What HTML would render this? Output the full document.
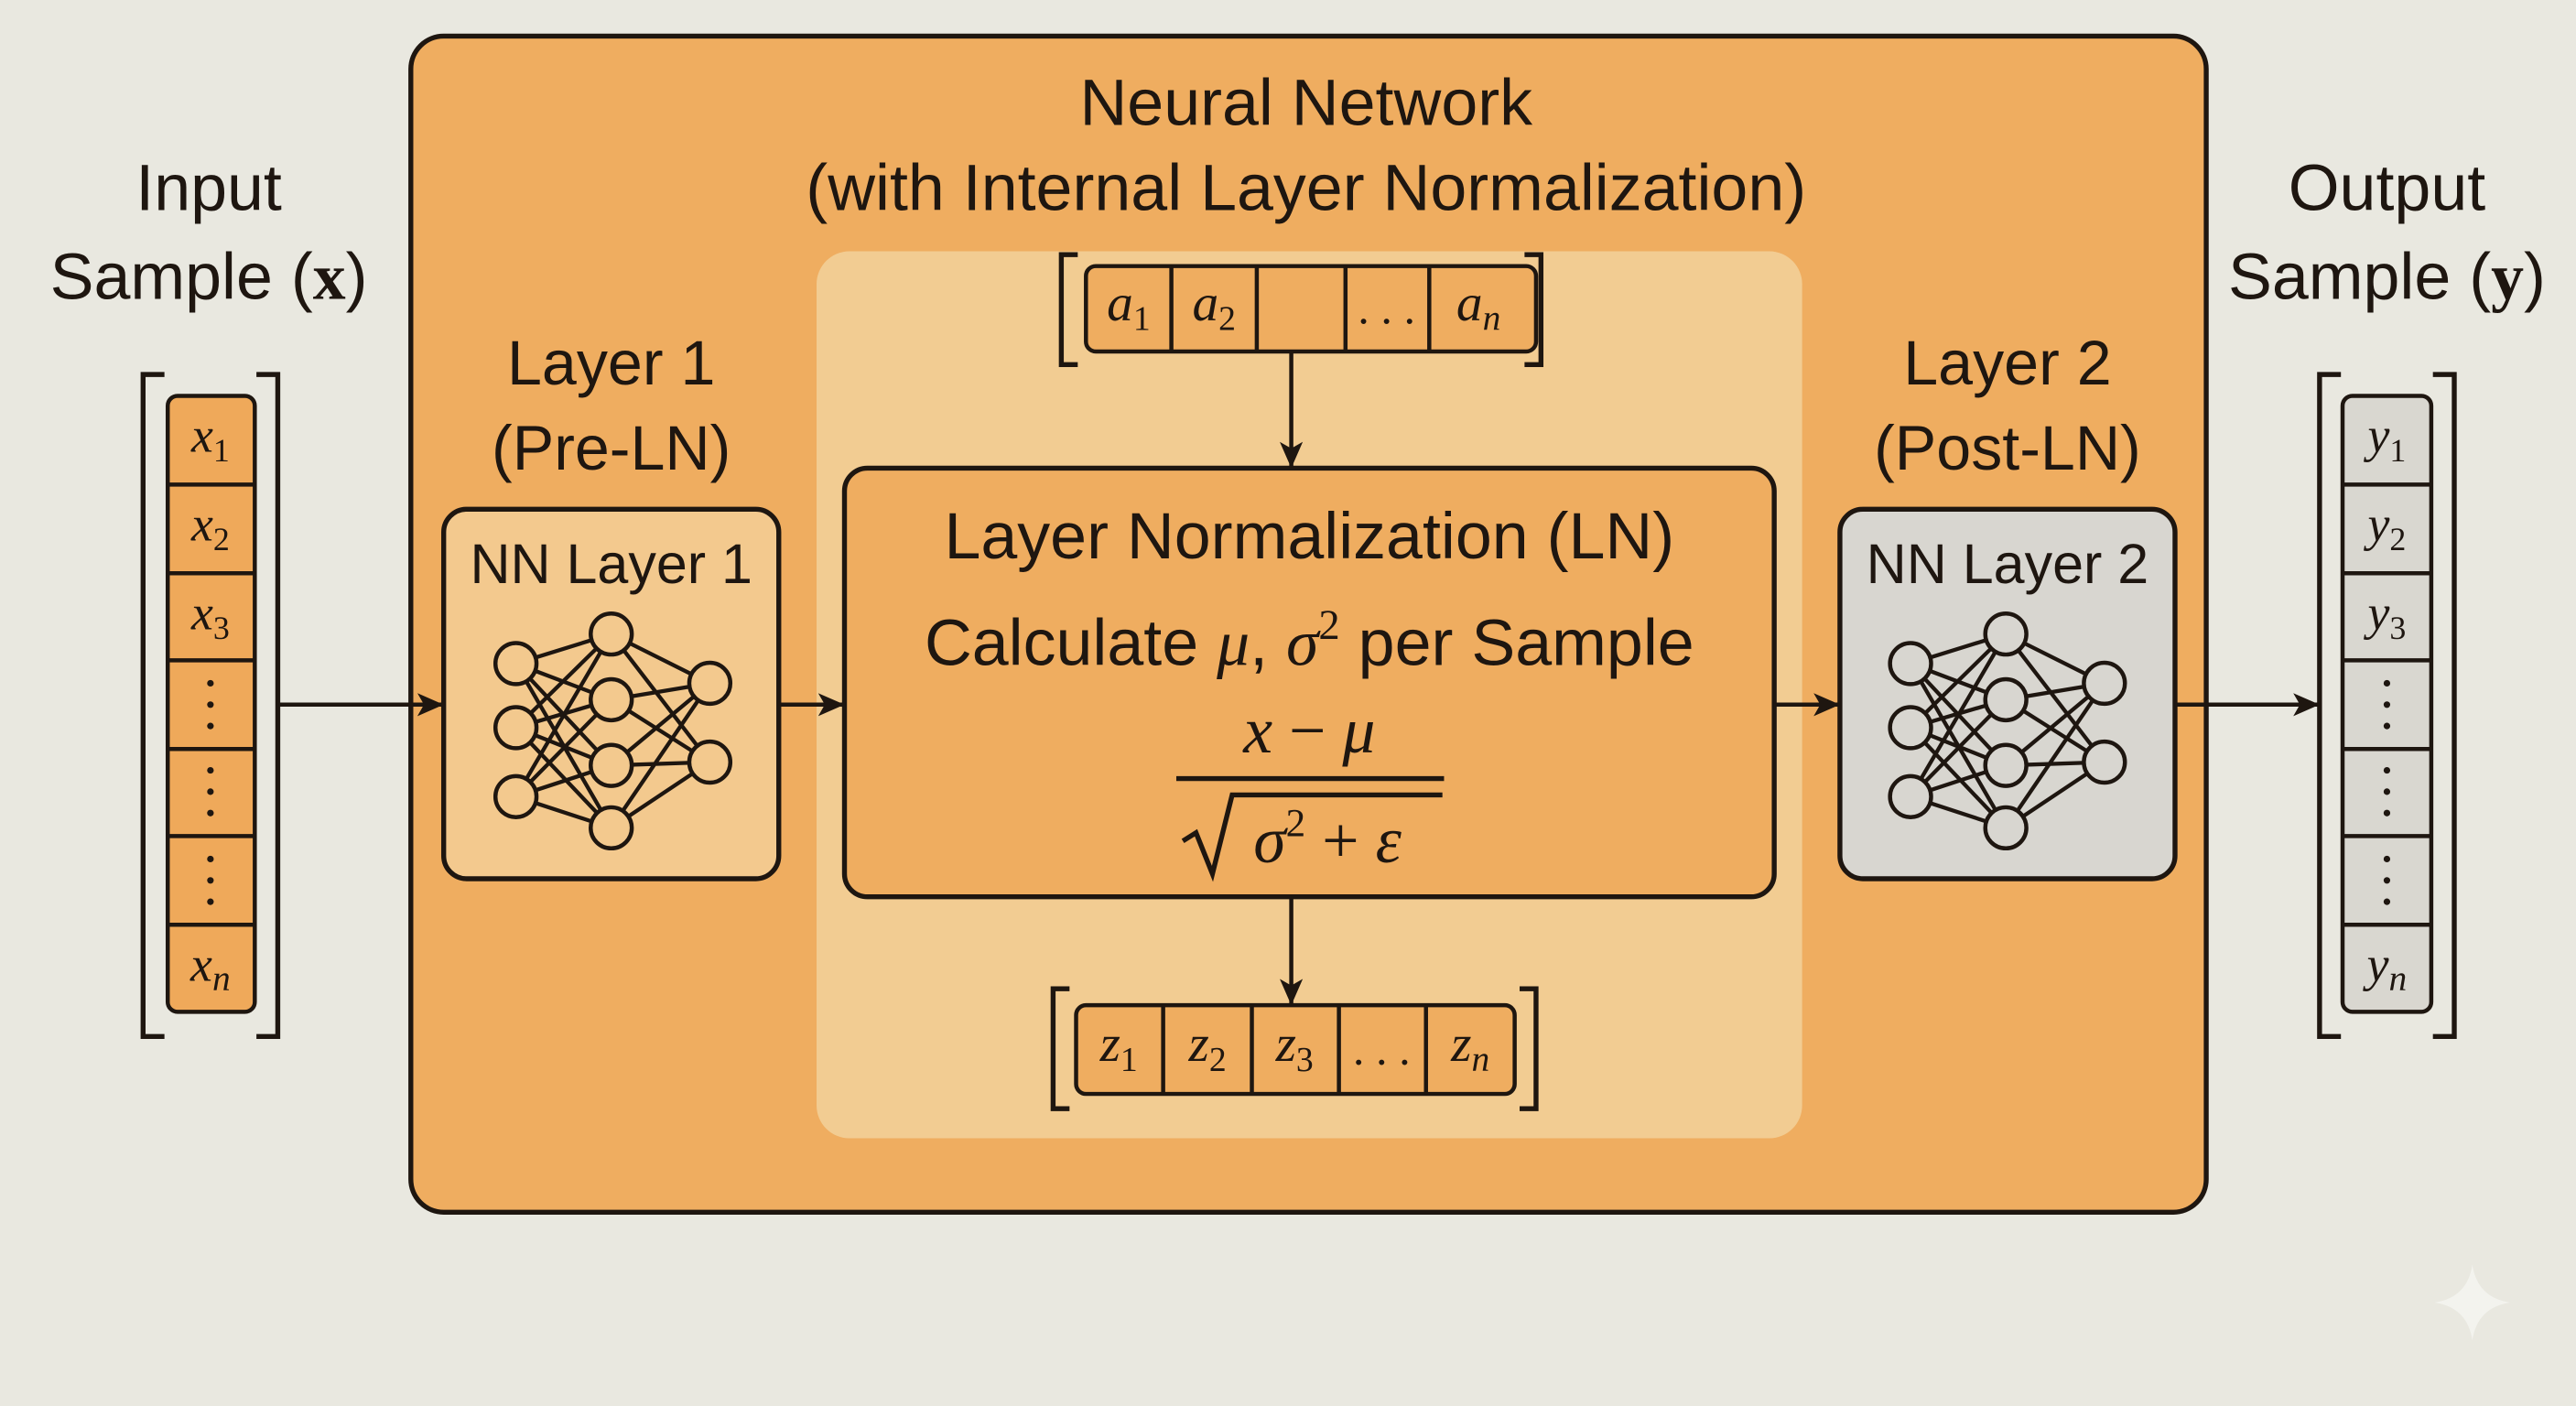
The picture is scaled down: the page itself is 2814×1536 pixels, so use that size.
<!DOCTYPE html>
<html><head><meta charset="utf-8"><style>
html,body{margin:0;padding:0;background:#e9e8e0;}
svg{display:block}
.t{font-family:"Liberation Sans",sans-serif;fill:#1e1610;text-anchor:middle}
.m{font-family:"Liberation Serif",serif;font-style:italic;fill:#1e1610;text-anchor:middle}
</style></head><body>
<svg width="2814" height="1536" viewBox="0 0 1568 856" xmlns="http://www.w3.org/2000/svg">
<defs>
<marker id="ah" markerWidth="16" markerHeight="14" refX="15" refY="7" orient="auto" markerUnits="userSpaceOnUse">
<path d="M0,0 L16,7 L0,14 L4,7 Z" fill="#1e1610"/></marker>
<g id="net" stroke="#1e1610" stroke-width="2.4" fill="none">
<path d="M314,404L372,386M314,404L372,426M314,404L372,466M314,404L372,504M314,443L372,386M314,443L372,426M314,443L372,466M314,443L372,504M314,485L372,386M314,485L372,426M314,485L372,466M314,485L372,504M372,386L432,416M372,386L432,464M372,426L432,416M372,426L432,464M372,466L432,416M372,466L432,464M372,504L432,416M372,504L432,464"/>
</g>
</defs>
<rect width="1568" height="856" fill="#e9e8e0"/>
<rect x="250" y="22" width="1093" height="716" rx="20" fill="#efad60" stroke="#1e1610" stroke-width="3"/>
<rect x="497" y="153" width="600" height="540" rx="20" fill="#f2cc92"/>
<text class="t" x="795" y="76" font-size="40">Neural Network</text>
<text class="t" x="795" y="128" font-size="40">(with Internal Layer Normalization)</text>
<text class="t" x="127" y="128" font-size="40">Input</text>
<text class="t" x="127" y="182" font-size="40">Sample (<tspan font-family="Liberation Serif" font-weight="bold">x</tspan>)</text>
<path d="M100,228 H87 V631 H100 M156,228 H169 V631 H156" fill="none" stroke="#1e1610" stroke-width="3"/>
<rect x="102" y="241" width="53" height="375" rx="6" fill="#efa95a" stroke="#1e1610" stroke-width="2.5"/>
<path d="M102,295H155M102,349H155M102,402H155M102,456H155M102,509H155M102,563H155" stroke="#1e1610" stroke-width="2.5"/>
<g font-size="30" class="m">
<text x="128" y="275">x<tspan font-size="20" font-style="normal" dy="6">1</tspan></text>
<text x="128" y="329">x<tspan font-size="20" font-style="normal" dy="6">2</tspan></text>
<text x="128" y="383">x<tspan font-size="20" font-style="normal" dy="6">3</tspan></text>
<text x="128" y="597">x<tspan font-size="22" dy="6">n</tspan></text>
</g>
<g fill="#1e1610"><circle cx="128" cy="416" r="2"/><circle cx="128" cy="429" r="2"/><circle cx="128" cy="442" r="2"/>
<circle cx="128" cy="469" r="2"/><circle cx="128" cy="482" r="2"/><circle cx="128" cy="495" r="2"/>
<circle cx="128" cy="523" r="2"/><circle cx="128" cy="536" r="2"/><circle cx="128" cy="549" r="2"/></g>
<text class="t" x="1453" y="128" font-size="40">Output</text>
<text class="t" x="1453" y="182" font-size="40">Sample (<tspan font-family="Liberation Serif" font-weight="bold">y</tspan>)</text>
<path d="M1425,228 H1412 V631 H1425 M1481,228 H1494 V631 H1481" fill="none" stroke="#1e1610" stroke-width="3"/>
<rect x="1426" y="241" width="54" height="375" rx="6" fill="#d9d7d0" stroke="#1e1610" stroke-width="2.5"/>
<path d="M1426,295H1480M1426,349H1480M1426,402H1480M1426,456H1480M1426,509H1480M1426,563H1480" stroke="#1e1610" stroke-width="2.5"/>
<g font-size="30" class="m">
<text x="1453" y="275">y<tspan font-size="20" font-style="normal" dy="6">1</tspan></text>
<text x="1453" y="329">y<tspan font-size="20" font-style="normal" dy="6">2</tspan></text>
<text x="1453" y="383">y<tspan font-size="20" font-style="normal" dy="6">3</tspan></text>
<text x="1453" y="597">y<tspan font-size="22" dy="6">n</tspan></text>
</g>
<g fill="#1e1610"><circle cx="1453" cy="416" r="2"/><circle cx="1453" cy="429" r="2"/><circle cx="1453" cy="442" r="2"/>
<circle cx="1453" cy="469" r="2"/><circle cx="1453" cy="482" r="2"/><circle cx="1453" cy="495" r="2"/>
<circle cx="1453" cy="523" r="2"/><circle cx="1453" cy="536" r="2"/><circle cx="1453" cy="549" r="2"/></g>
<text class="t" x="372" y="234" font-size="38">Layer 1</text>
<text class="t" x="372" y="286" font-size="38">(Pre-LN)</text>
<rect x="270" y="310" width="204" height="225" rx="14" fill="#f3c98e" stroke="#1e1610" stroke-width="3"/>
<text class="t" x="372" y="355" font-size="34">NN Layer 1</text>
<use href="#net"/>
<g fill="#f3c98e" stroke="#1e1610" stroke-width="2.5">
<circle cx="314" cy="404" r="12.5"/><circle cx="314" cy="443" r="12.5"/><circle cx="314" cy="485" r="12.5"/>
<circle cx="372" cy="386" r="12.5"/><circle cx="372" cy="426" r="12.5"/><circle cx="372" cy="466" r="12.5"/><circle cx="372" cy="504" r="12.5"/>
<circle cx="432" cy="416" r="12.5"/><circle cx="432" cy="464" r="12.5"/></g>
<text class="t" x="1222" y="234" font-size="38">Layer 2</text>
<text class="t" x="1222" y="286" font-size="38">(Post-LN)</text>
<rect x="1120" y="310" width="204" height="225" rx="14" fill="#d8d6d0" stroke="#1e1610" stroke-width="3"/>
<text class="t" x="1222" y="355" font-size="34">NN Layer 2</text>
<g transform="translate(849,0)">
<use href="#net"/>
<g fill="#d8d6d0" stroke="#1e1610" stroke-width="2.5">
<circle cx="314" cy="404" r="12.5"/><circle cx="314" cy="443" r="12.5"/><circle cx="314" cy="485" r="12.5"/>
<circle cx="372" cy="386" r="12.5"/><circle cx="372" cy="426" r="12.5"/><circle cx="372" cy="466" r="12.5"/><circle cx="372" cy="504" r="12.5"/>
<circle cx="432" cy="416" r="12.5"/><circle cx="432" cy="464" r="12.5"/></g></g>
<rect x="514" y="285" width="566" height="261" rx="14" fill="#efad60" stroke="#1e1610" stroke-width="3"/>
<text class="t" x="797" y="340" font-size="40">Layer Normalization (LN)</text>
<text class="t" x="797" y="405" font-size="40">Calculate <tspan font-family="Liberation Serif" font-style="italic">μ</tspan>, <tspan font-family="Liberation Serif" font-style="italic">σ</tspan><tspan font-family="Liberation Serif" font-size="26" dy="-16">2</tspan><tspan dy="16"> per Sample</tspan></text>
<text class="m" x="797" y="458" font-size="40">x <tspan font-style="normal">−</tspan> μ</text>
<line x1="716" y1="474" x2="879" y2="474" stroke="#1e1610" stroke-width="3"/>
<path d="M720,512 L728,507 L738,532 L750,484 L878,484" fill="none" stroke="#1e1610" stroke-width="3"/>
<text class="m" x="808" y="525" font-size="40">σ<tspan font-size="24" font-style="normal" dy="-16">2</tspan><tspan font-style="normal" dy="16"> + </tspan>ε</text>
<path d="M656,155 H646 V222 H656 M928,155 H938 V222 H928" fill="none" stroke="#1e1610" stroke-width="3"/>
<rect x="661" y="162" width="274" height="52" rx="6" fill="#efad60" stroke="#1e1610" stroke-width="2.5"/>
<path d="M713,162V214M765,162V214M819,162V214M870,162V214" stroke="#1e1610" stroke-width="2.5"/>
<g class="m" font-size="32"><text x="687" y="195">a<tspan font-size="21" font-style="normal" dy="6">1</tspan></text>
<text x="739" y="195">a<tspan font-size="21" font-style="normal" dy="6">2</tspan></text>
<text x="844" y="197" font-style="normal" font-size="28">. . .</text>
<text x="900" y="195">a<tspan font-size="22" dy="6">n</tspan></text></g>
<path d="M651,602 H641 V675 H651 M925,602 H935 V675 H925" fill="none" stroke="#1e1610" stroke-width="3"/>
<rect x="655" y="612" width="267" height="54" rx="6" fill="#efad60" stroke="#1e1610" stroke-width="2.5"/>
<path d="M708,612V666M762,612V666M815,612V666M868,612V666" stroke="#1e1610" stroke-width="2.5"/>
<g class="m" font-size="32"><text x="681" y="646">z<tspan font-size="21" font-style="normal" dy="6">1</tspan></text>
<text x="735" y="646">z<tspan font-size="21" font-style="normal" dy="6">2</tspan></text>
<text x="788" y="646">z<tspan font-size="21" font-style="normal" dy="6">3</tspan></text>
<text x="841" y="648" font-style="normal" font-size="28">. . .</text>
<text x="895" y="646">z<tspan font-size="22" dy="6">n</tspan></text></g>
<g stroke="#1e1610" stroke-width="2.5" marker-end="url(#ah)">
<line x1="170" y1="429" x2="269" y2="429"/>
<line x1="474" y1="429" x2="513" y2="429"/>
<line x1="1080" y1="429" x2="1119" y2="429"/>
<line x1="1324" y1="429" x2="1411" y2="429"/>
<line x1="786" y1="214" x2="786" y2="284"/>
<line x1="786" y1="546" x2="786" y2="611"/>
</g>
<path d="M1505,770 Q1508,790 1528,793 Q1508,796 1505,816 Q1502,796 1482,793 Q1502,790 1505,770Z" fill="#f3f3ee"/>
</svg>
</body></html>
